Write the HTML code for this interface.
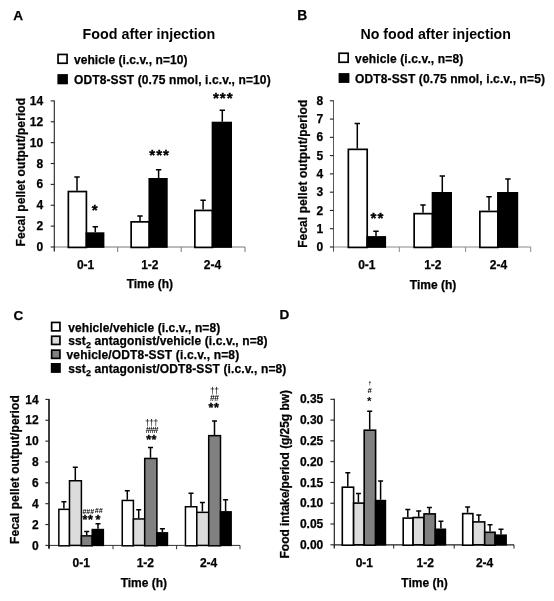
<!DOCTYPE html>
<html lang="en"><head><meta charset="utf-8"><title>Figure</title>
<style>
html,body{margin:0;padding:0;background:#fff;}
svg{display:block;}
svg text{font-family:"Liberation Sans", sans-serif;fill:#000;}
svg text.h{stroke:#000;stroke-width:0.25px;}
</style></head>
<body>
<svg width="554" height="601" viewBox="0 0 554 601" style="filter:blur(0.35px)">
<rect width="554" height="601" fill="#fff"/>
<text class="h" x="13.30" y="20.10" font-size="13.6" font-weight="bold" text-anchor="start" >A</text>
<text x="82.60" y="39.20" font-size="14.3" font-weight="bold" text-anchor="start" stroke="none">Food after injection</text>
<rect x="58.05" y="54.45" width="9.00" height="8.80" fill="#ffffff" stroke="#000" stroke-width="1.7"/>
<rect x="58.25" y="74.95" width="8.80" height="8.50" fill="#000000" stroke="#000" stroke-width="1.7"/>
<text class="h" x="74.00" y="64.00" font-size="12" font-weight="bold" text-anchor="start"  letter-spacing="0.06">vehicle (i.c.v., n=10)</text>
<text class="h" x="74.00" y="84.20" font-size="12" font-weight="bold" text-anchor="start"  letter-spacing="0.115">ODT8-SST (0.75 nmol, i.c.v., n=10)</text>
<text class="h" transform="translate(24.80 246.40) rotate(-90)" font-size="12" font-weight="bold" text-anchor="start" letter-spacing="0.1">Fecal pellet output/period</text>
<path d="M54.30 247.00H245.00" stroke="#777" stroke-width="1.0" fill="none"/>
<path d="M54.30 247.00V252.00" stroke="#777" stroke-width="1" fill="none"/>
<path d="M117.70 247.00V252.00" stroke="#777" stroke-width="1" fill="none"/>
<path d="M181.20 247.00V252.00" stroke="#777" stroke-width="1" fill="none"/>
<path d="M245.00 247.00V252.00" stroke="#777" stroke-width="1" fill="none"/>
<path d="M54.30 100.40V251.00" stroke="#222" stroke-width="1.1" fill="none"/>
<path d="M50.70 247.00H54.30" stroke="#222" stroke-width="1.1" fill="none"/>
<text class="h" x="43.20" y="251.10" font-size="12" font-weight="bold" text-anchor="end" >0</text>
<path d="M50.70 226.13H54.30" stroke="#222" stroke-width="1.1" fill="none"/>
<text class="h" x="43.20" y="230.23" font-size="12" font-weight="bold" text-anchor="end" >2</text>
<path d="M50.70 205.26H54.30" stroke="#222" stroke-width="1.1" fill="none"/>
<text class="h" x="43.20" y="209.36" font-size="12" font-weight="bold" text-anchor="end" >4</text>
<path d="M50.70 184.39H54.30" stroke="#222" stroke-width="1.1" fill="none"/>
<text class="h" x="43.20" y="188.49" font-size="12" font-weight="bold" text-anchor="end" >6</text>
<path d="M50.70 163.51H54.30" stroke="#222" stroke-width="1.1" fill="none"/>
<text class="h" x="43.20" y="167.61" font-size="12" font-weight="bold" text-anchor="end" >8</text>
<path d="M50.70 142.64H54.30" stroke="#222" stroke-width="1.1" fill="none"/>
<text class="h" x="43.20" y="146.74" font-size="12" font-weight="bold" text-anchor="end" >10</text>
<path d="M50.70 121.77H54.30" stroke="#222" stroke-width="1.1" fill="none"/>
<text class="h" x="43.20" y="125.87" font-size="12" font-weight="bold" text-anchor="end" >12</text>
<path d="M50.70 100.90H54.30" stroke="#222" stroke-width="1.1" fill="none"/>
<text class="h" x="43.20" y="105.00" font-size="12" font-weight="bold" text-anchor="end" >14</text>
<path d="M77.00 190.70V177.00M74.30 177.00H79.70" stroke="#000" stroke-width="1.5" fill="none"/>
<rect x="68.35" y="191.55" width="18.05" height="55.85" fill="#ffffff" stroke="#000" stroke-width="1.7"/>
<path d="M95.30 232.30V226.80M92.60 226.80H98.00" stroke="#000" stroke-width="1.5" fill="none"/>
<rect x="86.40" y="233.15" width="17.15" height="13.85" fill="#000000" stroke="#000" stroke-width="1.7"/>
<path d="M140.00 221.00V216.10M137.30 216.10H142.70" stroke="#000" stroke-width="1.5" fill="none"/>
<rect x="131.15" y="221.85" width="18.15" height="25.55" fill="#ffffff" stroke="#000" stroke-width="1.7"/>
<path d="M158.60 178.00V169.70M155.90 169.70H161.30" stroke="#000" stroke-width="1.5" fill="none"/>
<rect x="149.30" y="178.85" width="17.55" height="68.15" fill="#000000" stroke="#000" stroke-width="1.7"/>
<path d="M203.10 209.60V200.20M200.40 200.20H205.80" stroke="#000" stroke-width="1.5" fill="none"/>
<rect x="194.85" y="210.45" width="17.65" height="36.95" fill="#ffffff" stroke="#000" stroke-width="1.7"/>
<path d="M222.30 121.70V110.30M219.60 110.30H225.00" stroke="#000" stroke-width="1.5" fill="none"/>
<rect x="212.50" y="122.55" width="18.65" height="124.45" fill="#000000" stroke="#000" stroke-width="1.7"/>
<text class="h" x="85.60" y="269.00" font-size="12" font-weight="bold" text-anchor="middle" >0-1</text>
<text class="h" x="149.80" y="269.00" font-size="12" font-weight="bold" text-anchor="middle" >1-2</text>
<text class="h" x="212.50" y="269.00" font-size="12" font-weight="bold" text-anchor="middle" >2-4</text>
<text class="h" x="149.90" y="288.00" font-size="12" font-weight="bold" text-anchor="middle" >Time (h)</text>
<text x="94.80" y="214.60" font-size="15.2" font-weight="bold" text-anchor="middle" stroke="#000" stroke-width="0.35">*</text>
<text x="159.60" y="159.80" font-size="15.2" font-weight="bold" text-anchor="middle" stroke="#000" stroke-width="0.35" letter-spacing="1.0">***</text>
<text x="223.30" y="102.80" font-size="15.2" font-weight="bold" text-anchor="middle" stroke="#000" stroke-width="0.35" letter-spacing="1.0">***</text>
<text class="h" x="297.20" y="20.40" font-size="13.8" font-weight="bold" text-anchor="start" >B</text>
<text x="360.40" y="39.20" font-size="14.2" font-weight="bold" text-anchor="start" stroke="none">No food after injection</text>
<rect x="339.05" y="53.25" width="9.10" height="9.00" fill="#ffffff" stroke="#000" stroke-width="1.7"/>
<rect x="339.45" y="73.95" width="9.10" height="8.10" fill="#000000" stroke="#000" stroke-width="1.7"/>
<text class="h" x="355.10" y="63.00" font-size="12" font-weight="bold" text-anchor="start"  letter-spacing="0.13">vehicle (i.c.v., n=8)</text>
<text class="h" x="355.10" y="83.00" font-size="12" font-weight="bold" text-anchor="start"  letter-spacing="0.115">ODT8-SST (0.75 nmol, i.c.v., n=5)</text>
<text class="h" transform="translate(306.80 247.80) rotate(-90)" font-size="12" font-weight="bold" text-anchor="start" letter-spacing="0.08">Fecal pellet output/period</text>
<path d="M333.50 247.00H530.70" stroke="#888" stroke-width="1.0" fill="none"/>
<path d="M333.50 247.00V252.00" stroke="#888" stroke-width="1" fill="none"/>
<path d="M399.30 247.00V252.00" stroke="#888" stroke-width="1" fill="none"/>
<path d="M465.60 247.00V252.00" stroke="#888" stroke-width="1" fill="none"/>
<path d="M530.70 247.00V252.00" stroke="#888" stroke-width="1" fill="none"/>
<path d="M333.50 100.30V251.00" stroke="#444" stroke-width="0.9" fill="none"/>
<path d="M329.90 247.00H333.50" stroke="#222" stroke-width="1.1" fill="none"/>
<text class="h" x="323.30" y="251.10" font-size="12" font-weight="bold" text-anchor="end" >0</text>
<path d="M329.90 228.72H333.50" stroke="#222" stroke-width="1.1" fill="none"/>
<text class="h" x="323.30" y="232.82" font-size="12" font-weight="bold" text-anchor="end" >1</text>
<path d="M329.90 210.45H333.50" stroke="#222" stroke-width="1.1" fill="none"/>
<text class="h" x="323.30" y="214.55" font-size="12" font-weight="bold" text-anchor="end" >2</text>
<path d="M329.90 192.18H333.50" stroke="#222" stroke-width="1.1" fill="none"/>
<text class="h" x="323.30" y="196.28" font-size="12" font-weight="bold" text-anchor="end" >3</text>
<path d="M329.90 173.90H333.50" stroke="#222" stroke-width="1.1" fill="none"/>
<text class="h" x="323.30" y="178.00" font-size="12" font-weight="bold" text-anchor="end" >4</text>
<path d="M329.90 155.62H333.50" stroke="#222" stroke-width="1.1" fill="none"/>
<text class="h" x="323.30" y="159.72" font-size="12" font-weight="bold" text-anchor="end" >5</text>
<path d="M329.90 137.35H333.50" stroke="#222" stroke-width="1.1" fill="none"/>
<text class="h" x="323.30" y="141.45" font-size="12" font-weight="bold" text-anchor="end" >6</text>
<path d="M329.90 119.08H333.50" stroke="#222" stroke-width="1.1" fill="none"/>
<text class="h" x="323.30" y="123.18" font-size="12" font-weight="bold" text-anchor="end" >7</text>
<path d="M329.90 100.80H333.50" stroke="#222" stroke-width="1.1" fill="none"/>
<text class="h" x="323.30" y="104.90" font-size="12" font-weight="bold" text-anchor="end" >8</text>
<path d="M357.30 148.50V123.40M354.60 123.40H360.00" stroke="#000" stroke-width="1.5" fill="none"/>
<rect x="348.35" y="149.35" width="18.85" height="98.05" fill="#ffffff" stroke="#000" stroke-width="1.7"/>
<path d="M376.00 236.10V231.30M373.30 231.30H378.70" stroke="#000" stroke-width="1.5" fill="none"/>
<rect x="367.20" y="236.95" width="18.05" height="10.05" fill="#000000" stroke="#000" stroke-width="1.7"/>
<path d="M423.00 212.80V205.00M420.30 205.00H425.70" stroke="#000" stroke-width="1.5" fill="none"/>
<rect x="414.15" y="213.65" width="18.35" height="33.75" fill="#ffffff" stroke="#000" stroke-width="1.7"/>
<path d="M442.30 192.00V175.90M439.60 175.90H445.00" stroke="#000" stroke-width="1.5" fill="none"/>
<rect x="432.50" y="192.85" width="18.65" height="54.15" fill="#000000" stroke="#000" stroke-width="1.7"/>
<path d="M489.00 210.60V196.70M486.30 196.70H491.70" stroke="#000" stroke-width="1.5" fill="none"/>
<rect x="479.85" y="211.45" width="18.05" height="35.95" fill="#ffffff" stroke="#000" stroke-width="1.7"/>
<path d="M507.90 192.00V179.00M505.20 179.00H510.60" stroke="#000" stroke-width="1.5" fill="none"/>
<rect x="497.90" y="192.85" width="19.45" height="54.15" fill="#000000" stroke="#000" stroke-width="1.7"/>
<text class="h" x="366.80" y="269.00" font-size="12" font-weight="bold" text-anchor="middle" >0-1</text>
<text class="h" x="432.80" y="269.00" font-size="12" font-weight="bold" text-anchor="middle" >1-2</text>
<text class="h" x="498.40" y="269.00" font-size="12" font-weight="bold" text-anchor="middle" >2-4</text>
<text class="h" x="433.00" y="289.00" font-size="12" font-weight="bold" text-anchor="middle" >Time (h)</text>
<text x="377.40" y="223.30" font-size="15.2" font-weight="bold" text-anchor="middle" stroke="#000" stroke-width="0.35" letter-spacing="1.0">**</text>
<text class="h" x="13.50" y="319.60" font-size="13.5" font-weight="bold" text-anchor="start" >C</text>
<rect x="51.65" y="322.45" width="8.30" height="8.40" fill="#ffffff" stroke="#000" stroke-width="1.7"/>
<rect x="51.65" y="336.25" width="8.30" height="8.20" fill="#dcdcdc" stroke="#000" stroke-width="1.7"/>
<rect x="51.65" y="350.15" width="8.30" height="8.20" fill="#808080" stroke="#000" stroke-width="1.7"/>
<rect x="51.65" y="363.85" width="8.30" height="8.20" fill="#000000" stroke="#000" stroke-width="1.7"/>
<text class="h" x="68.20" y="331.60" font-size="12" font-weight="bold" text-anchor="start"  letter-spacing="0.09">vehicle/vehicle (i.c.v., n=8)</text>
<text class="h" x="68.20" y="345.00" font-size="12" font-weight="bold" text-anchor="start"  letter-spacing="0.117">sst<tspan font-size="9" dy="3">2</tspan><tspan dy="-3"> </tspan>antagonist/vehicle (i.c.v., n=8)</text>
<text class="h" x="66.50" y="359.00" font-size="12" font-weight="bold" text-anchor="start"  letter-spacing="0.155">vehicle/ODT8-SST (i.c.v., n=8)</text>
<text class="h" x="68.20" y="372.50" font-size="12" font-weight="bold" text-anchor="start"  letter-spacing="0.116">sst<tspan font-size="9" dy="3">2</tspan><tspan dy="-3"> </tspan>antagonist/ODT8-SST (i.c.v., n=8)</text>
<text class="h" transform="translate(19.10 544.00) rotate(-90)" font-size="12" font-weight="bold" text-anchor="start" letter-spacing="0.11">Fecal pellet output/period</text>
<path d="M49.00 545.40H240.00" stroke="#333" stroke-width="1.0" fill="none"/>
<path d="M49.00 545.40V549.20" stroke="#333" stroke-width="1" fill="none"/>
<path d="M113.00 545.40V549.20" stroke="#333" stroke-width="1" fill="none"/>
<path d="M176.60 545.40V549.20" stroke="#333" stroke-width="1" fill="none"/>
<path d="M240.00 545.40V549.20" stroke="#333" stroke-width="1" fill="none"/>
<path d="M49.00 398.90V548.20" stroke="#000" stroke-width="1.5" fill="none"/>
<path d="M45.40 545.40H49.00" stroke="#222" stroke-width="1.1" fill="none"/>
<text class="h" x="38.60" y="549.50" font-size="12" font-weight="bold" text-anchor="end" >0</text>
<path d="M45.40 524.54H49.00" stroke="#222" stroke-width="1.1" fill="none"/>
<text class="h" x="38.60" y="528.64" font-size="12" font-weight="bold" text-anchor="end" >2</text>
<path d="M45.40 503.69H49.00" stroke="#222" stroke-width="1.1" fill="none"/>
<text class="h" x="38.60" y="507.79" font-size="12" font-weight="bold" text-anchor="end" >4</text>
<path d="M45.40 482.83H49.00" stroke="#222" stroke-width="1.1" fill="none"/>
<text class="h" x="38.60" y="486.93" font-size="12" font-weight="bold" text-anchor="end" >6</text>
<path d="M45.40 461.97H49.00" stroke="#222" stroke-width="1.1" fill="none"/>
<text class="h" x="38.60" y="466.07" font-size="12" font-weight="bold" text-anchor="end" >8</text>
<path d="M45.40 441.11H49.00" stroke="#222" stroke-width="1.1" fill="none"/>
<text class="h" x="38.60" y="445.21" font-size="12" font-weight="bold" text-anchor="end" >10</text>
<path d="M45.40 420.26H49.00" stroke="#222" stroke-width="1.1" fill="none"/>
<text class="h" x="38.60" y="424.36" font-size="12" font-weight="bold" text-anchor="end" >12</text>
<path d="M45.40 399.40H49.00" stroke="#222" stroke-width="1.1" fill="none"/>
<text class="h" x="38.60" y="403.50" font-size="12" font-weight="bold" text-anchor="end" >14</text>
<path d="M63.90 508.60V501.70M61.40 501.70H66.40" stroke="#000" stroke-width="1.5" fill="none"/>
<rect x="58.85" y="509.35" width="10.65" height="36.45" fill="#ffffff" stroke="#000" stroke-width="1.5"/>
<path d="M75.30 480.00V467.20M72.80 467.20H77.80" stroke="#000" stroke-width="1.5" fill="none"/>
<rect x="69.50" y="480.75" width="11.90" height="64.65" fill="#dcdcdc" stroke="#000" stroke-width="1.5"/>
<path d="M86.70 535.10V531.50M84.20 531.50H89.20" stroke="#000" stroke-width="1.5" fill="none"/>
<rect x="81.40" y="535.85" width="10.80" height="9.95" fill="#808080" stroke="#000" stroke-width="1.5"/>
<path d="M98.00 528.80V523.70M95.50 523.70H100.50" stroke="#000" stroke-width="1.5" fill="none"/>
<rect x="92.20" y="529.55" width="11.15" height="15.85" fill="#000000" stroke="#000" stroke-width="1.5"/>
<path d="M127.30 499.70V490.80M124.80 490.80H129.80" stroke="#000" stroke-width="1.5" fill="none"/>
<rect x="122.25" y="500.45" width="11.15" height="45.35" fill="#ffffff" stroke="#000" stroke-width="1.5"/>
<path d="M138.70 518.20V509.80M136.20 509.80H141.20" stroke="#000" stroke-width="1.5" fill="none"/>
<rect x="133.40" y="518.95" width="11.30" height="26.45" fill="#dcdcdc" stroke="#000" stroke-width="1.5"/>
<path d="M150.50 457.70V447.50M148.00 447.50H153.00" stroke="#000" stroke-width="1.5" fill="none"/>
<rect x="144.70" y="458.45" width="12.20" height="87.35" fill="#808080" stroke="#000" stroke-width="1.5"/>
<path d="M162.40 532.10V528.70M159.90 528.70H164.90" stroke="#000" stroke-width="1.5" fill="none"/>
<rect x="156.90" y="532.85" width="10.55" height="12.55" fill="#000000" stroke="#000" stroke-width="1.5"/>
<path d="M191.00 506.00V493.30M188.50 493.30H193.50" stroke="#000" stroke-width="1.5" fill="none"/>
<rect x="185.45" y="506.75" width="11.35" height="39.05" fill="#ffffff" stroke="#000" stroke-width="1.5"/>
<path d="M202.40 511.60V502.40M199.90 502.40H204.90" stroke="#000" stroke-width="1.5" fill="none"/>
<rect x="196.80" y="512.35" width="11.90" height="33.05" fill="#dcdcdc" stroke="#000" stroke-width="1.5"/>
<path d="M214.50 434.90V421.00M212.00 421.00H217.00" stroke="#000" stroke-width="1.5" fill="none"/>
<rect x="208.70" y="435.65" width="11.80" height="110.15" fill="#808080" stroke="#000" stroke-width="1.5"/>
<path d="M225.60 511.10V499.70M223.10 499.70H228.10" stroke="#000" stroke-width="1.5" fill="none"/>
<rect x="220.50" y="511.85" width="10.65" height="33.55" fill="#000000" stroke="#000" stroke-width="1.5"/>
<text class="h" x="81.20" y="567.20" font-size="12" font-weight="bold" text-anchor="middle" >0-1</text>
<text class="h" x="145.30" y="567.20" font-size="12" font-weight="bold" text-anchor="middle" >1-2</text>
<text class="h" x="208.60" y="567.20" font-size="12" font-weight="bold" text-anchor="middle" >2-4</text>
<text class="h" x="143.90" y="587.30" font-size="12" font-weight="bold" text-anchor="middle" >Time (h)</text>
<text x="82.40" y="513.60" font-size="7" font-weight="bold" text-anchor="start" fill="#333">###</text>
<text x="94.80" y="513.00" font-size="7" font-weight="bold" text-anchor="start" fill="#333" font-style="italic">##</text>
<text x="82.60" y="523.80" font-size="12.5" font-weight="bold" text-anchor="start" stroke="#000" stroke-width="0.35" letter-spacing="0.6">**</text>
<text x="95.60" y="523.80" font-size="12.5" font-weight="bold" text-anchor="start" stroke="#000" stroke-width="0.35">*</text>
<text x="151.38" y="426.20" font-size="8.5" font-weight="normal" text-anchor="middle" fill="#222" letter-spacing="-0.45">†††</text>
<text x="151.70" y="433.20" font-size="8.5" font-weight="bold" text-anchor="middle" fill="#333" letter-spacing="-0.8">###</text>
<text x="151.60" y="444.00" font-size="12.5" font-weight="bold" text-anchor="middle" stroke="#000" stroke-width="0.35" letter-spacing="0.6">**</text>
<text x="214.38" y="393.60" font-size="8.5" font-weight="normal" text-anchor="middle" fill="#222" letter-spacing="-0.45">††</text>
<text x="214.15" y="400.80" font-size="8.5" font-weight="bold" text-anchor="middle" fill="#333" letter-spacing="-0.7">##</text>
<text x="214.00" y="412.00" font-size="12.5" font-weight="bold" text-anchor="middle" stroke="#000" stroke-width="0.35" letter-spacing="0.6">**</text>
<text class="h" x="279.60" y="318.90" font-size="13.5" font-weight="bold" text-anchor="start" >D</text>
<text class="h" transform="translate(289.40 558.40) rotate(-90)" font-size="12" font-weight="bold" text-anchor="start" letter-spacing="-0.06">Food intake/period (g/25g bw)</text>
<path d="M334.30 544.80H514.00" stroke="#222" stroke-width="1.2" fill="none"/>
<path d="M334.30 544.80V548.60" stroke="#222" stroke-width="1" fill="none"/>
<path d="M393.70 544.80V548.60" stroke="#222" stroke-width="1" fill="none"/>
<path d="M454.20 544.80V548.60" stroke="#222" stroke-width="1" fill="none"/>
<path d="M514.00 544.80V548.60" stroke="#222" stroke-width="1" fill="none"/>
<path d="M334.30 398.80V547.60" stroke="#222" stroke-width="1.2" fill="none"/>
<path d="M330.40 544.80H334.30" stroke="#222" stroke-width="1.1" fill="none"/>
<text class="h" x="323.30" y="548.90" font-size="12" font-weight="bold" text-anchor="end" >0.00</text>
<path d="M330.40 524.01H334.30" stroke="#222" stroke-width="1.1" fill="none"/>
<text class="h" x="323.30" y="528.11" font-size="12" font-weight="bold" text-anchor="end" >0.05</text>
<path d="M330.40 503.23H334.30" stroke="#222" stroke-width="1.1" fill="none"/>
<text class="h" x="323.30" y="507.33" font-size="12" font-weight="bold" text-anchor="end" >0.10</text>
<path d="M330.40 482.44H334.30" stroke="#222" stroke-width="1.1" fill="none"/>
<text class="h" x="323.30" y="486.54" font-size="12" font-weight="bold" text-anchor="end" >0.15</text>
<path d="M330.40 461.66H334.30" stroke="#222" stroke-width="1.1" fill="none"/>
<text class="h" x="323.30" y="465.76" font-size="12" font-weight="bold" text-anchor="end" >0.20</text>
<path d="M330.40 440.87H334.30" stroke="#222" stroke-width="1.1" fill="none"/>
<text class="h" x="323.30" y="444.97" font-size="12" font-weight="bold" text-anchor="end" >0.25</text>
<path d="M330.40 420.09H334.30" stroke="#222" stroke-width="1.1" fill="none"/>
<text class="h" x="323.30" y="424.19" font-size="12" font-weight="bold" text-anchor="end" >0.30</text>
<path d="M330.40 399.30H334.30" stroke="#222" stroke-width="1.1" fill="none"/>
<text class="h" x="323.30" y="403.40" font-size="12" font-weight="bold" text-anchor="end" >0.35</text>
<path d="M347.80 486.40V472.70M345.30 472.70H350.30" stroke="#000" stroke-width="1.5" fill="none"/>
<rect x="342.30" y="487.20" width="11.30" height="58.00" fill="#ffffff" stroke="#000" stroke-width="1.6"/>
<path d="M358.40 502.30V493.40M355.90 493.40H360.90" stroke="#000" stroke-width="1.5" fill="none"/>
<rect x="353.60" y="503.10" width="10.60" height="41.70" fill="#dcdcdc" stroke="#000" stroke-width="1.6"/>
<path d="M369.70 429.40V411.20M367.20 411.20H372.20" stroke="#000" stroke-width="1.5" fill="none"/>
<rect x="364.20" y="430.20" width="11.40" height="115.00" fill="#808080" stroke="#000" stroke-width="1.6"/>
<path d="M380.60 499.80V481.00M378.10 481.00H383.10" stroke="#000" stroke-width="1.5" fill="none"/>
<rect x="375.60" y="500.60" width="9.80" height="44.20" fill="#000000" stroke="#000" stroke-width="1.6"/>
<path d="M407.80 517.30V509.40M405.30 509.40H410.30" stroke="#000" stroke-width="1.5" fill="none"/>
<rect x="403.20" y="518.10" width="9.90" height="27.10" fill="#ffffff" stroke="#000" stroke-width="1.6"/>
<path d="M418.70 516.70V510.90M416.20 510.90H421.20" stroke="#000" stroke-width="1.5" fill="none"/>
<rect x="413.10" y="517.50" width="10.90" height="27.30" fill="#dcdcdc" stroke="#000" stroke-width="1.6"/>
<path d="M429.40 513.10V507.60M426.90 507.60H431.90" stroke="#000" stroke-width="1.5" fill="none"/>
<rect x="424.00" y="513.90" width="11.30" height="31.30" fill="#808080" stroke="#000" stroke-width="1.6"/>
<path d="M440.90 528.50V521.20M438.40 521.20H443.40" stroke="#000" stroke-width="1.5" fill="none"/>
<rect x="435.30" y="529.30" width="10.10" height="15.50" fill="#000000" stroke="#000" stroke-width="1.6"/>
<path d="M467.60 512.80V507.00M465.10 507.00H470.10" stroke="#000" stroke-width="1.5" fill="none"/>
<rect x="462.70" y="513.60" width="10.20" height="31.60" fill="#ffffff" stroke="#000" stroke-width="1.6"/>
<path d="M478.80 521.10V515.00M476.30 515.00H481.30" stroke="#000" stroke-width="1.5" fill="none"/>
<rect x="472.90" y="521.90" width="11.80" height="22.90" fill="#dcdcdc" stroke="#000" stroke-width="1.6"/>
<path d="M490.00 531.50V524.80M487.50 524.80H492.50" stroke="#000" stroke-width="1.5" fill="none"/>
<rect x="484.70" y="532.30" width="10.40" height="12.90" fill="#808080" stroke="#000" stroke-width="1.6"/>
<path d="M501.00 534.40V529.20M498.50 529.20H503.50" stroke="#000" stroke-width="1.5" fill="none"/>
<rect x="495.10" y="535.20" width="11.00" height="9.60" fill="#000000" stroke="#000" stroke-width="1.6"/>
<text class="h" x="364.30" y="567.30" font-size="12" font-weight="bold" text-anchor="middle" >0-1</text>
<text class="h" x="425.20" y="567.30" font-size="12" font-weight="bold" text-anchor="middle" >1-2</text>
<text class="h" x="484.60" y="567.30" font-size="12" font-weight="bold" text-anchor="middle" >2-4</text>
<text class="h" x="424.50" y="587.30" font-size="12" font-weight="bold" text-anchor="middle" >Time (h)</text>
<text x="369.90" y="385.00" font-size="5" font-weight="bold" text-anchor="middle" fill="#333">†</text>
<text x="369.60" y="392.60" font-size="7.5" font-weight="bold" text-anchor="middle" fill="#333" font-style="italic">#</text>
<text x="369.30" y="405.00" font-size="11.5" font-weight="bold" text-anchor="middle" fill="#333">*</text>
</svg>
</body></html>
